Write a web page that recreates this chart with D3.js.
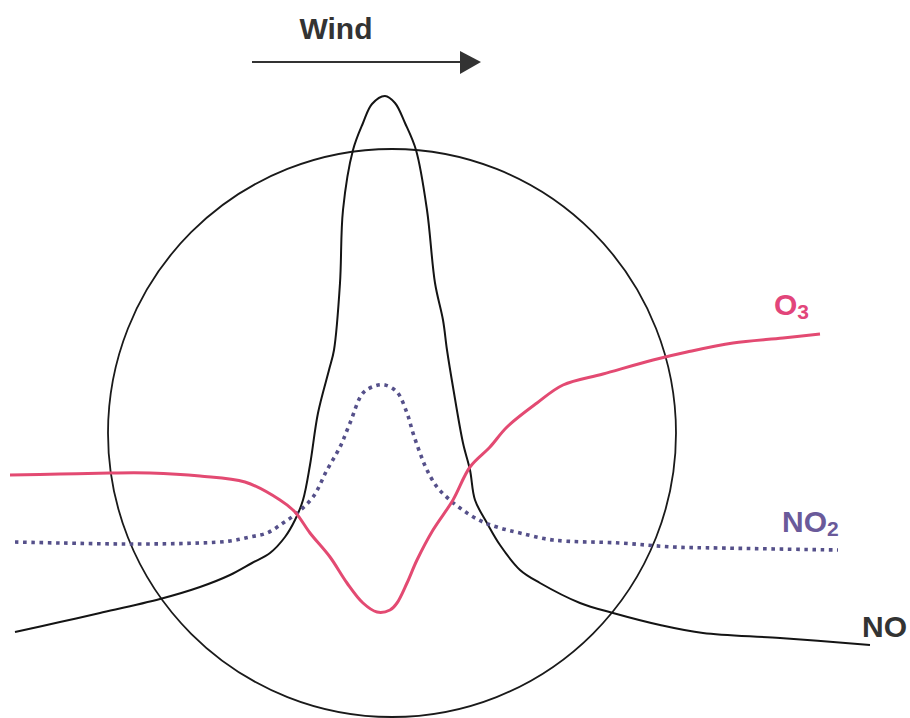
<!DOCTYPE html>
<html><head><meta charset="utf-8">
<script src="https://cdn.jsdelivr.net/npm/d3@7"></script>
<style>body{margin:0;background:#fff}svg{display:block}</style>
</head><body><div id="chart"></div>
<script>
// Schematic: concentration profiles across a plume (x = distance, y = relative concentration)
const distanceNO  = [15,60,100,160,200,230,252,270,285,295,303,310,318,329,334,340,343,353,363,372,385,395,405,416,427,435,443,447,453,463,470,475,487,500,520,540,580,613,660,703,780,870];
const valueNO     = [86,96,105,119,131,143,155,165,181,198,218,253,305,348,368,435,508,568,595,614,622,615,595,568,508,435,398,368,331,275,248,218,195,173,148,135,115,105,93,85,80,73];

const distanceNO2 = [15,60,130,200,230,250,267,283,297,313,327,340,350,363,375,385,397,407,413,420,427,437,450,467,483,500,520,553,620,673,720,838];
const valueNO2    = [176,175,174,175,177,181,185,195,205,221,248,271,295,325,332,333,326,305,285,265,248,231,218,205,196,190,185,178,175,171,170,168];

const distanceO3  = [10,60,110,150,200,245,280,295,310,330,347,363,377,390,397,407,417,433,453,470,490,507,537,563,603,653,687,733,783,820];
const valueO3     = [243,244,245,245,242,236,218,206,185,161,135,115,106,108,115,135,158,188,218,251,271,291,315,333,344,358,366,375,380,384];

const windLabel = "Wind";
const seriesLabels = [
  {name: "NO", sub: "", color: "#333333"},
  {name: "NO", sub: "2", color: "#6a5a9a"},
  {name: "O", sub: "3", color: "#e2457a"}
];

const W = 910, H = 718;
const svg = d3.select("#chart").append("svg").attr("width", W).attr("height", H);
const x = d3.scaleLinear().domain([0, 910]).range([0, 910]);
const y = d3.scaleLinear().domain([0, 718]).range([718, 0]);

// circle (sampling volume)
const circleCenter = [392, 285], circleRadius = 284;
svg.append("circle")
  .attr("cx", x(circleCenter[0])).attr("cy", y(circleCenter[1]))
  .attr("r", x(circleRadius) - x(0))
  .attr("fill", "none").attr("stroke", "#1a1a1a").attr("stroke-width", 1.8);

const line = d3.line().x(d => x(d[0])).y(d => y(d[1])).curve(d3.curveCatmullRom.alpha(0.5));

svg.append("path").datum(d3.zip(distanceNO, valueNO))
  .attr("d", line).attr("fill", "none").attr("stroke", "#141414").attr("stroke-width", 2);

svg.append("path").datum(d3.zip(distanceNO2, valueNO2))
  .attr("d", line).attr("fill", "none").attr("stroke", "#55508a").attr("stroke-width", 3.6)
  .attr("stroke-dasharray", "3.6,4.6");

svg.append("path").datum(d3.zip(distanceO3, valueO3))
  .attr("d", line).attr("fill", "none").attr("stroke", "#e34a72").attr("stroke-width", 3);

// Wind arrow
const font = "'Liberation Sans', Arial, sans-serif";
svg.append("text").attr("x", 336).attr("y", 39).attr("text-anchor", "middle")
  .attr("font-family", font).attr("font-weight", "bold").attr("font-size", 30)
  .attr("fill", "#333").text(windLabel);
svg.append("line").attr("x1", 252).attr("y1", 62).attr("x2", 464).attr("y2", 62)
  .attr("stroke", "#333").attr("stroke-width", 2.2);
svg.append("path").attr("d", "M460,51 L481,62 L460,74 Z").attr("fill", "#333");

// labels
const labelPos = [[862, 637, 30, 0], [782, 532, 30, 21], [774, 315, 30, 21]];
seriesLabels.forEach((s, i) => {
  const [lx, ly, fs, ss] = labelPos[i];
  const t = svg.append("text").attr("x", lx).attr("y", ly)
    .attr("font-family", font).attr("font-weight", "bold").attr("font-size", fs)
    .attr("fill", s.color);
  t.append("tspan").text(s.name);
  if (s.sub) t.append("tspan").attr("font-size", ss).attr("dy", 4).text(s.sub);
});
</script>
</body></html>
